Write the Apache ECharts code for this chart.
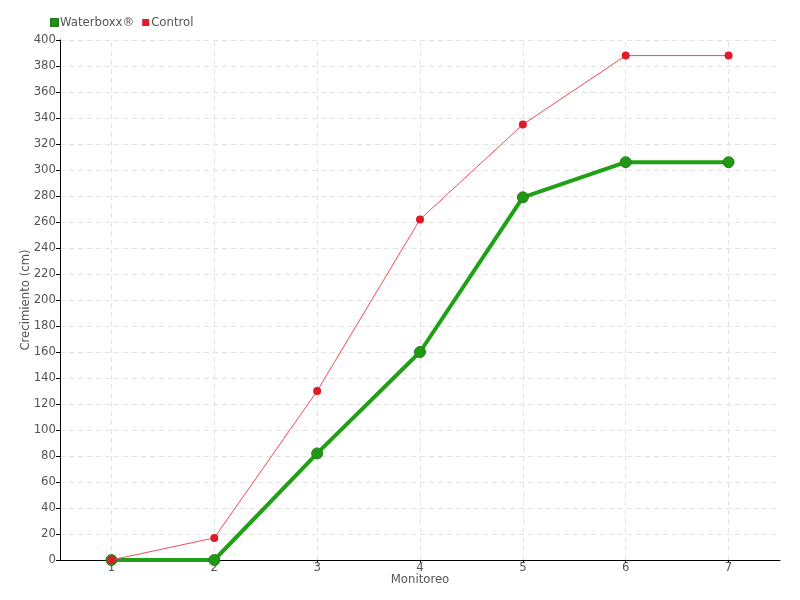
<!DOCTYPE html>
<html><head><meta charset="utf-8">
<script src="https://cdn.jsdelivr.net/npm/echarts@6/dist/echarts.min.js"></script>
<style>html,body{margin:0;padding:0;background:#fff}#c{width:800px;height:600px}</style>
</head><body><div id="c"></div>
<script>
const categories = ['1','2','3','4','5','6','7'];
const waterboxx = [0, 0, 82, 160, 279, 306, 306];
const control = [0, 17, 130, 262, 335, 388, 388];
const yTicks = {min: 0, max: 400, interval: 20};
const FONT = '"DejaVu Sans Condensed", "Liberation Sans Narrow", sans-serif';
const chart = echarts.init(document.getElementById('c'), null, {renderer: 'canvas'});
chart.setOption({
  animation: false,
  textStyle: {fontFamily: FONT},
  legend: {
    left: 45, top: 11, itemWidth: 7, itemHeight: 7, itemGap: 8,
    icon: 'rect',
    textStyle: {color: '#555', fontSize: 13, fontFamily: FONT, padding: [0,0,0,-3]},
    data: ['Waterboxx®', 'Control']
  },
  grid: {left: 60, right: 20, top: 40, bottom: 40},
  xAxis: {
    type: 'category', data: categories, boundaryGap: true,
    name: 'Monitoreo', nameLocation: 'middle', nameGap: 13, nameMoveOverlap: false,
    nameTextStyle: {color: '#555', fontSize: 13, fontFamily: FONT},
    axisLine: {lineStyle: {color: '#000', width: 1}},
    axisTick: {show: true, alignWithLabel: true, length: 3, lineStyle: {color: '#000'}},
    axisLabel: {color: '#555', fontSize: 13, margin: 1, fontFamily: FONT},
    splitLine: {show: false}
  },
  yAxis: {
    type: 'value', min: yTicks.min, max: yTicks.max, interval: yTicks.interval,
    name: 'Crecimiento (cm)', nameLocation: 'middle', nameGap: 28, nameRotate: 90, nameMoveOverlap: false,
    nameTextStyle: {color: '#555', fontSize: 13, fontFamily: FONT},
    axisLine: {show: true, lineStyle: {color: '#000', width: 1}},
    axisTick: {show: true, length: 4, lineStyle: {color: '#000'}},
    axisLabel: {color: '#555', fontSize: 13, margin: 4, fontFamily: FONT},
    splitLine: {show: true, lineStyle: {color: '#e3e3e3', type: [5, 4]}}
  },
  series: [
    {
      type: 'line', data: [], z: 0, silent: true,
      markLine: {
        z: 0, zlevel: 0, silent: true, symbol: 'none', label: {show: false},
        animation: false,
        lineStyle: {color: '#e3e3e3', type: [5, 4], width: 1},
        data: categories.map(c => ({xAxis: c}))
      }
    },
    {
      name: 'Waterboxx®', type: 'line', data: waterboxx, z: 2,
      symbol: 'circle', symbolSize: 11,
      lineStyle: {color: '#1fa015', width: 4},
      itemStyle: {color: '#1e9a12', borderColor: '#2a7a22', borderWidth: 1}
    },
    {
      name: 'Control', type: 'line', data: control, z: 3,
      symbol: 'circle', symbolSize: 8,
      lineStyle: {color: '#f24a58', width: 1},
      itemStyle: {color: '#e01a2a'}
    }
  ]
});
</script></body></html>
